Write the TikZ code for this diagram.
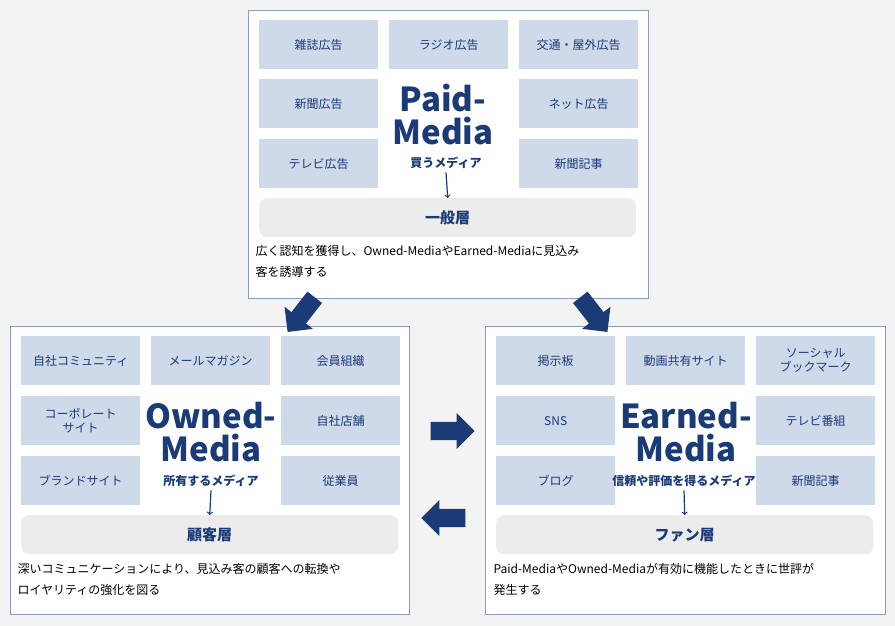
\documentclass[tikz,border=0pt]{standalone}
\usepackage{fontspec}
\setmainfont{Noto Sans CJK JP}
\usetikzlibrary{positioning,shapes.arrows}
\definecolor{navy}{HTML}{1B3A78}
\definecolor{boxfill}{HTML}{CED9EA}
\definecolor{panelline}{HTML}{8A9DBF}
\definecolor{bg}{HTML}{F3F3F3}
\definecolor{barfill}{HTML}{ECECEC}

\begin{document}
\begin{tikzpicture}[x=1pt, y=-1pt,
                      panel/.style = {draw=panelline, fill=white},
                      media/.style = {fill=boxfill, text=navy, font=\fontsize{12}{14}\selectfont,
                        minimum width=119pt, minimum height=49pt, align=center, anchor=north west},
                      layer/.style = {fill=barfill, rounded corners=8pt, text=navy,
                        font=\bfseries\fontsize{15}{17}\selectfont, minimum width=377pt,
                        minimum height=39pt, anchor=north west},
                      title/.style = {text=navy, font=\bfseries\fontsize{33}{33}\selectfont, align=center},
                      sub/.style = {text=navy, font=\bfseries\fontsize{12}{14}\selectfont},
                      note/.style = {anchor=north west, align=left, font=\fontsize{12}{21}\selectfont},
                      bigarrow/.style = {single arrow, fill=navy, minimum height=44pt,
                        minimum width=36pt, single arrow head extend=4pt, inner sep=4pt}]
  \fill[bg] (0,0) rectangle (895,626);
  \useasboundingbox (0,0) rectangle (895,626);
  % paid
  \draw[panel] (248,10) rectangle (648,298);
  \node[media] (zasshi) at (259,20) {雑誌広告};
  \node[media] (radio) at (389,20) {ラジオ広告};
  \node[media] (koutsu) at (519,20) {交通・屋外広告};
  \node[media] (shinbun) at (259,79) {新聞広告};
  \node[media] (net) at (519,79) {ネット広告};
  \node[media] (tv) at (259,139) {テレビ広告};
  \node[media] (kiji) at (519,139) {新聞記事};
  \node[title] (paid) at (443,115) {Paid-\\Media};
  \node[sub] (paidsub) at (446,163) {買うメディア};
  \node[layer] (ippan) at (259,198) {一般層};
  \draw[->, navy, line width=1.2pt] (paidsub.south) -- (ippan.north);
  \node[note] (paidnote) at (252,242) {広く認知を獲得し、Owned-MediaやEarned-Mediaに見込み\\客を誘導する};
  % owned
  \draw[panel] (10,326) rectangle (409,614);
  \node[media] (community) at (21,336) {自社コミュニティ};
  \node[media] (mail) at (151,336) {メールマガジン};
  \node[media] (kaiin) at (281,336) {会員組織};
  \node[media] (corp) at (21,396) {コーポレート\\サイト};
  \node[media] (tenpo) at (281,396) {自社店舗};
  \node[media] (brand) at (21,456) {ブランドサイト};
  \node[media] (jugyo) at (281,456) {従業員};
  \node[title] (owned) at (211,432) {Owned-\\Media};
  \node[sub] (ownedsub) at (211,481) {所有するメディア};
  \node[layer] (kokyaku) at (21,515) {顧客層};
  \draw[->, navy, line width=1.2pt] (ownedsub.south) -- (kokyaku.north);
  \node[note] (ownednote) at (14,560) {深いコミュニケーションにより、見込み客の顧客への転換や\\ロイヤリティの強化を図る};
  % earned
  \draw[panel] (485,326) rectangle (885,614);
  \node[media] (keiji) at (496,336) {掲示板};
  \node[media] (douga) at (626,336) {動画共有サイト};
  \node[media] (social) at (756,336) {ソーシャル\\ブックマーク};
  \node[media] (sns) at (496,396) {SNS};
  \node[media] (bangumi) at (756,396) {テレビ番組};
  \node[media] (blog) at (496,456) {ブログ};
  \node[media] (ekiji) at (756,456) {新聞記事};
  \node[title] (earned) at (686,432) {Earned-\\Media};
  \node[sub] (earnedsub) at (684,481) {信頼や評価を得るメディア};
  \node[layer] (fan) at (496,515) {ファン層};
  \draw[->, navy, line width=1.2pt] (earnedsub.south) -- (fan.north);
  \node[note] (earnednote) at (490,560) {Paid-MediaやOwned-Mediaが有効に機能したときに世評が\\発生する};
  % flows
  \node[bigarrow, rotate=-128] (toowned) at (304,311) {};
  \node[bigarrow, rotate=-52] (toearned) at (591,311) {};
  \node[bigarrow] (right) at (448,431) {};
  \node[bigarrow, rotate=180] (left) at (448,518) {};
\end{tikzpicture}
\end{document}
